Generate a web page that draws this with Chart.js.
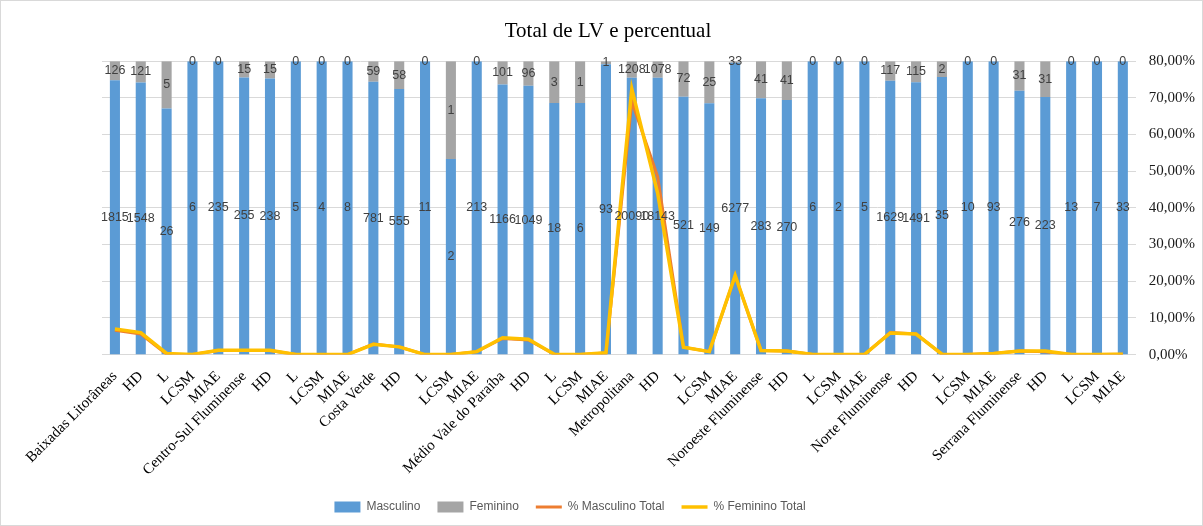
<!DOCTYPE html>
<html lang="pt">
<head>
    <meta charset="UTF-8">
    <title>Total de LV e percentual</title>
    <script src="https://cdn.jsdelivr.net/npm/chart.js@4"></script>
    <style>
        body { margin: 0; background: #fff; }
        .quadro { width: 1203px; height: 526px; box-sizing: border-box; border: 1px solid #d9d9d9; position: relative; }
    </style>
</head>
<body>
<div class="quadro"><canvas id="grafico"></canvas></div>
<script>
    // categorias (região + subitens)
    const categorias = [
        'Baixadas Litorâneas', 'HD', 'L', 'LCSM', 'MIAE',
        'Centro-Sul Fluminense', 'HD', 'L', 'LCSM', 'MIAE',
        'Costa Verde', 'HD', 'L', 'LCSM', 'MIAE',
        'Médio Vale do Paraíba', 'HD', 'L', 'LCSM', 'MIAE',
        'Metropolitana', 'HD', 'L', 'LCSM', 'MIAE',
        'Noroeste Fluminense', 'HD', 'L', 'LCSM', 'MIAE',
        'Norte Fluminense', 'HD', 'L', 'LCSM', 'MIAE',
        'Serrana Fluminense', 'HD', 'L', 'LCSM', 'MIAE'
    ];
    const masculino = [
        1815, 1548, 26, 6, 235,
        255, 238, 5, 4, 8,
        781, 555, 11, 2, 213,
        1166, 1049, 18, 6, 93,
        20090, 18143, 521, 149, 6277,
        283, 270, 6, 2, 5,
        1629, 1491, 35, 10, 93,
        276, 223, 13, 7, 33
    ];
    const feminino = [
        126, 121, 5, 0, 0,
        15, 15, 0, 0, 0,
        59, 58, 0, 1, 0,
        101, 96, 3, 1, 1,
        1208, 1078, 72, 25, 33,
        41, 41, 0, 0, 0,
        117, 115, 2, 0, 0,
        31, 31, 0, 0, 0
    ];
    // linhas (eixo direito, em %)
    const pctMasculinoTotal = [
        6.6, 5.6, 0.1, 0.0, 1.1,
        1.1, 1.1, 0.0, 0.0, 0.0,
        2.9, 2.1, 0.0, 0.0, 0.8,
        4.4, 4.0, 0.1, 0.0, 0.4,
        69.0, 48.5, 2.0, 0.8, 21.5,
        1.1, 1.0, 0.0, 0.0, 0.0,
        6.0, 5.6, 0.1, 0.0, 0.3,
        1.0, 0.8, 0.0, 0.0, 0.1
    ];
    const pctFemininoTotal = [
        7.0, 6.0, 0.3, 0.0, 1.2,
        1.2, 1.2, 0.0, 0.0, 0.0,
        2.8, 2.1, 0.0, 0.0, 0.8,
        4.6, 4.2, 0.1, 0.0, 0.5,
        72.5, 44.0, 2.0, 0.8, 21.6,
        1.1, 1.0, 0.0, 0.0, 0.0,
        5.9, 5.6, 0.1, 0.0, 0.3,
        1.0, 1.0, 0.0, 0.0, 0.1
    ];
    const ticksDireita = [0, 10, 20, 30, 40, 50, 60, 70, 80];

    // barras 100% empilhadas
    const partM = masculino.map((m, i) => m / (m + feminino[i]) * 100);
    const partF = feminino.map((f, i) => f / (masculino[i] + f) * 100);

    const rotulos = {
        id: 'rotulos',
        afterDatasetsDraw(chart) {
            const ctx = chart.ctx;
            ctx.save();
            ctx.font = '12.5px "Liberation Sans", sans-serif';
            ctx.fillStyle = '#404040';
            ctx.textAlign = 'center';
            ctx.textBaseline = 'middle';
            [0, 1].forEach(di => {
                const vals = di === 0 ? masculino : feminino;
                chart.getDatasetMeta(di).data.forEach((el, i) => {
                    ctx.fillText(vals[i], el.x, (el.y + el.base) / 2);
                });
            });
            ctx.restore();
        }
    };

    // título e legenda recentrados como no original
    const centraliza = (box, cx) => {
        const dx = cx - (box.left + box.right) / 2;
        box.left += dx;
        box.right += dx;
    };
    const moveCaixas = {
        id: 'moveCaixas',
        afterLayout(chart) {
            centraliza(chart.legend, 569);
            centraliza(chart.titleBlock, 607);
        }
    };

    new Chart(document.getElementById('grafico'), {
        type: 'bar',
        data: {
            labels: categorias,
            datasets: [
                { label: 'Masculino', data: partM, backgroundColor: '#5b9bd5', yAxisID: 'yb', order: 2, pointStyle: 'rect' },
                { label: 'Feminino', data: partF, backgroundColor: '#a5a5a5', yAxisID: 'yb', order: 2, pointStyle: 'rect' },
                { type: 'line', label: '% Masculino Total', data: pctMasculinoTotal, borderColor: '#ed7d31', backgroundColor: '#ed7d31',
                  borderWidth: 3, pointRadius: 0, tension: 0, yAxisID: 'y', order: 1, pointStyle: 'line' },
                { type: 'line', label: '% Feminino Total', data: pctFemininoTotal, borderColor: '#ffc000', backgroundColor: '#ffc000',
                  borderWidth: 3.5, pointRadius: 0, tension: 0, yAxisID: 'y', order: 0, pointStyle: 'line' }
            ]
        },
        options: {
            responsive: true,
            maintainAspectRatio: false,
            animation: false,
            layout: { padding: { top: 10, right: -6, left: 101, bottom: 2 } },
            datasets: { bar: { barPercentage: 0.39, categoryPercentage: 1 } },
            scales: {
                x: {
                    stacked: true,
                    grid: { display: false },
                    border: { color: '#d9d9d9' },
                    ticks: {
                        autoSkip: false, maxRotation: 45, minRotation: 45, padding: 5,
                        color: '#000', font: { family: '"Liberation Serif", serif', size: 15 }
                    }
                },
                yb: { stacked: true, min: 0, max: 100, display: false },
                y: {
                    position: 'right',
                    min: 0, max: 80,
                    afterBuildTicks: axis => { axis.ticks = ticksDireita.map(v => ({ value: v })); },
                    grid: { color: '#d9d9d9', drawTicks: false },
                    border: { display: false },
                    ticks: {
                        padding: 13, color: '#1a1a1a',
                        font: { family: '"Liberation Serif", serif', size: 15 },
                        callback: v => v.toFixed(2).replace('.', ',') + '%'
                    }
                }
            },
            plugins: {
                title: {
                    display: true,
                    text: 'Total de LV e percentual',
                    color: '#000',
                    font: { family: '"Liberation Serif", serif', size: 21, weight: 'normal' },
                    padding: { top: 8, bottom: 17 }
                },
                legend: {
                    position: 'bottom',
                    labels: {
                        usePointStyle: true,
                        pointStyleWidth: 26,
                        boxHeight: 11,
                        padding: 17,
                        color: '#595959',
                        font: { family: '"Liberation Sans", sans-serif', size: 12 },
                        sort: (a, b) => a.datasetIndex - b.datasetIndex
                    }
                },
                tooltip: { enabled: false }
            }
        },
        plugins: [rotulos, moveCaixas]
    });
</script>
</body>
</html>
